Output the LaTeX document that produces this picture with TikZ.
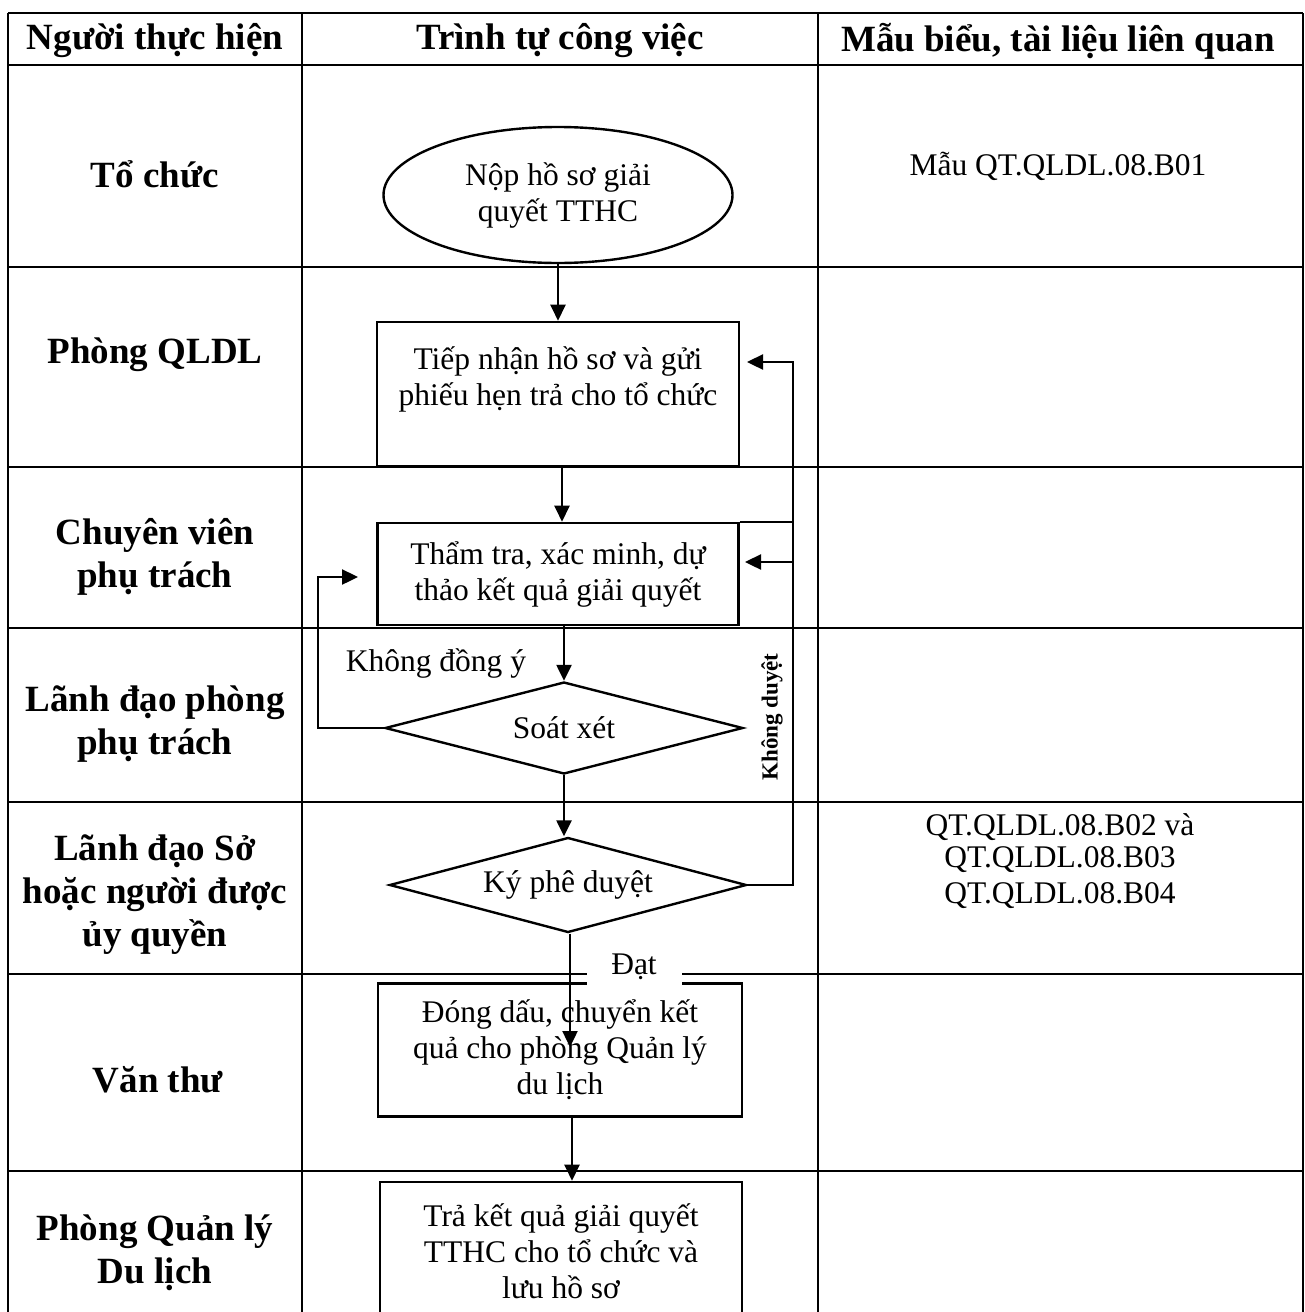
\documentclass[tikz,border=0pt]{standalone}
\usepackage{fontspec}
\setmainfont{Liberation Serif}
\usetikzlibrary{arrows.meta, shapes.geometric}
\newcommand{\bodyfont}{\fontsize{31.5}{36}\selectfont}
\newcommand{\rolefont}{\fontsize{37}{43}\selectfont\bfseries}

\begin{document}
\begin{tikzpicture}[
  x=1pt, y=-1pt,
  grid/.style={line width=2.3pt},
  line/.style={line width=2.4pt},
  arr/.style={-{Triangle[length=16pt,width=15pt]}, line width=2.4pt},
  box/.style={rectangle, draw, line width=2.6pt, align=center, font=\bodyfont, inner sep=0pt},
  oval/.style={ellipse, draw, line width=2.4pt, align=center, font=\bodyfont, inner sep=0pt},
  dec/.style={diamond, draw, line width=2.4pt, aspect=3.9, inner sep=0pt, font=\bodyfont},
  role/.style={align=center, font=\rolefont},
  doc/.style={align=center, font=\bodyfont},
]
\useasboundingbox (0,0) rectangle (1305,1312);
\clip (0,0) rectangle (1305,1312);

% table
\draw[grid] (8,13) -- (1303,13);
\foreach \y in {65,267,467,628,802,974,1171}
  \draw[grid] (8,\y) -- (1303,\y);
\foreach \x in {8,302,818,1303}
  \draw[grid] (\x,13) -- (\x,1320);

% header
\node[role] (hRole) at (155,41) {Người thực hiện};
\node[role] (hStep) at (560,41) {Trình tự công việc};
\node[role] (hDoc) at (1058,41) {Mẫu biểu, tài liệu liên quan};

% roles
\node[role] (rToChuc) at (155,174) {Tổ chức};
\node[role] (rQLDL) at (155,355) {Phòng QLDL};
\node[role] (rCV) at (155,557) {Chuyên viên\\phụ trách};
\node[role] (rLDP) at (155,724) {Lãnh đạo phòng\\phụ trách};
\node[role] (rLDS) at (155,895) {Lãnh đạo Sở\\hoặc người được\\ủy quyền};
\node[role] (rVT) at (158,1080) {Văn thư};
\node[role] (rPQL) at (155,1253) {Phòng Quản lý\\Du lịch};

% documents
\node[doc] (dB01) at (1058,166) {Mẫu QT.QLDL.08.B01};
\node[doc, font=\fontsize{31.5}{32}\selectfont] (dB02) at (1060,861)
  {QT.QLDL.08.B02 và\\QT.QLDL.08.B03\\[4pt]QT.QLDL.08.B04};

% flow
\node[oval, minimum width=349pt, minimum height=136pt] (nop) at (558,195)
  {Nộp hồ sơ giải\\quyết TTHC};
\node[box, minimum width=362pt, minimum height=144pt] (tiep) at (558,394)
  {Tiếp nhận hồ sơ và gửi\\phiếu hẹn trả cho tổ chức\\\mbox{}};
\node[box, minimum width=361pt, minimum height=102pt] (tham) at (558,574)
  {Thẩm tra, xác minh, dự\\thảo kết quả giải quyết};
\node[dec, minimum width=358pt, minimum height=92pt] (soat) at (564,728) {Soát xét};
\node[dec, minimum width=357pt, minimum height=95pt] (ky) at (568,885) {Ký phê duyệt};
\node[box, minimum width=364pt, minimum height=133pt] (dong) at (560,1050)
  {Đóng dấu, chuyển kết\\quả cho phòng Quản lý\\du lịch};
\node[box, minimum width=362pt, minimum height=138pt] (tra) at (561,1251)
  {Trả kết quả giải quyết\\TTHC cho tổ chức và\\lưu hồ sơ};

\coordinate (loopx) at (318,0);
\coordinate (loopend) at (358,577);
\coordinate (backx) at (793,0);
\coordinate (backtop) at (747,362);
\coordinate (backmid) at (745,562);
\coordinate (dongtip) at (570,1047);

\draw[arr] (nop.south) -- (nop.south |- tiep.north);
\draw[arr] (tiep.south -| 562,0) -- (562,0 |- tham.north);
\draw[arr] (tham.south -| soat.north) -- (soat.north);
\draw[arr] (soat.south) -- (soat.south |- ky.north);
\draw[arr] (ky.south -| dongtip) -- (dongtip);
\draw[arr] (dong.south -| 572,0) -- (572,0 |- tra.north);

% returns
\draw[arr] (soat.west) -- (soat.west -| loopx) |- (loopend);
\draw[arr] (ky.east) -- (ky.east -| backx) |- (backtop);
\draw[arr] (backmid -| backx) -- (backmid);
\draw[line] (tham.north east) -- (tham.north east -| backx);

\node[font=\bodyfont] (lNo) at (436,663) {Không đồng ý};
\node[font=\fontsize{23}{23}\selectfont\bfseries, rotate=90] (lReject) at (772,717) {Không duyệt};
\node[font=\bodyfont, fill=white, minimum width=95pt, minimum height=40pt, inner sep=0pt] (lOk) at (634,967) {Đạt};
\end{tikzpicture}
\end{document}
